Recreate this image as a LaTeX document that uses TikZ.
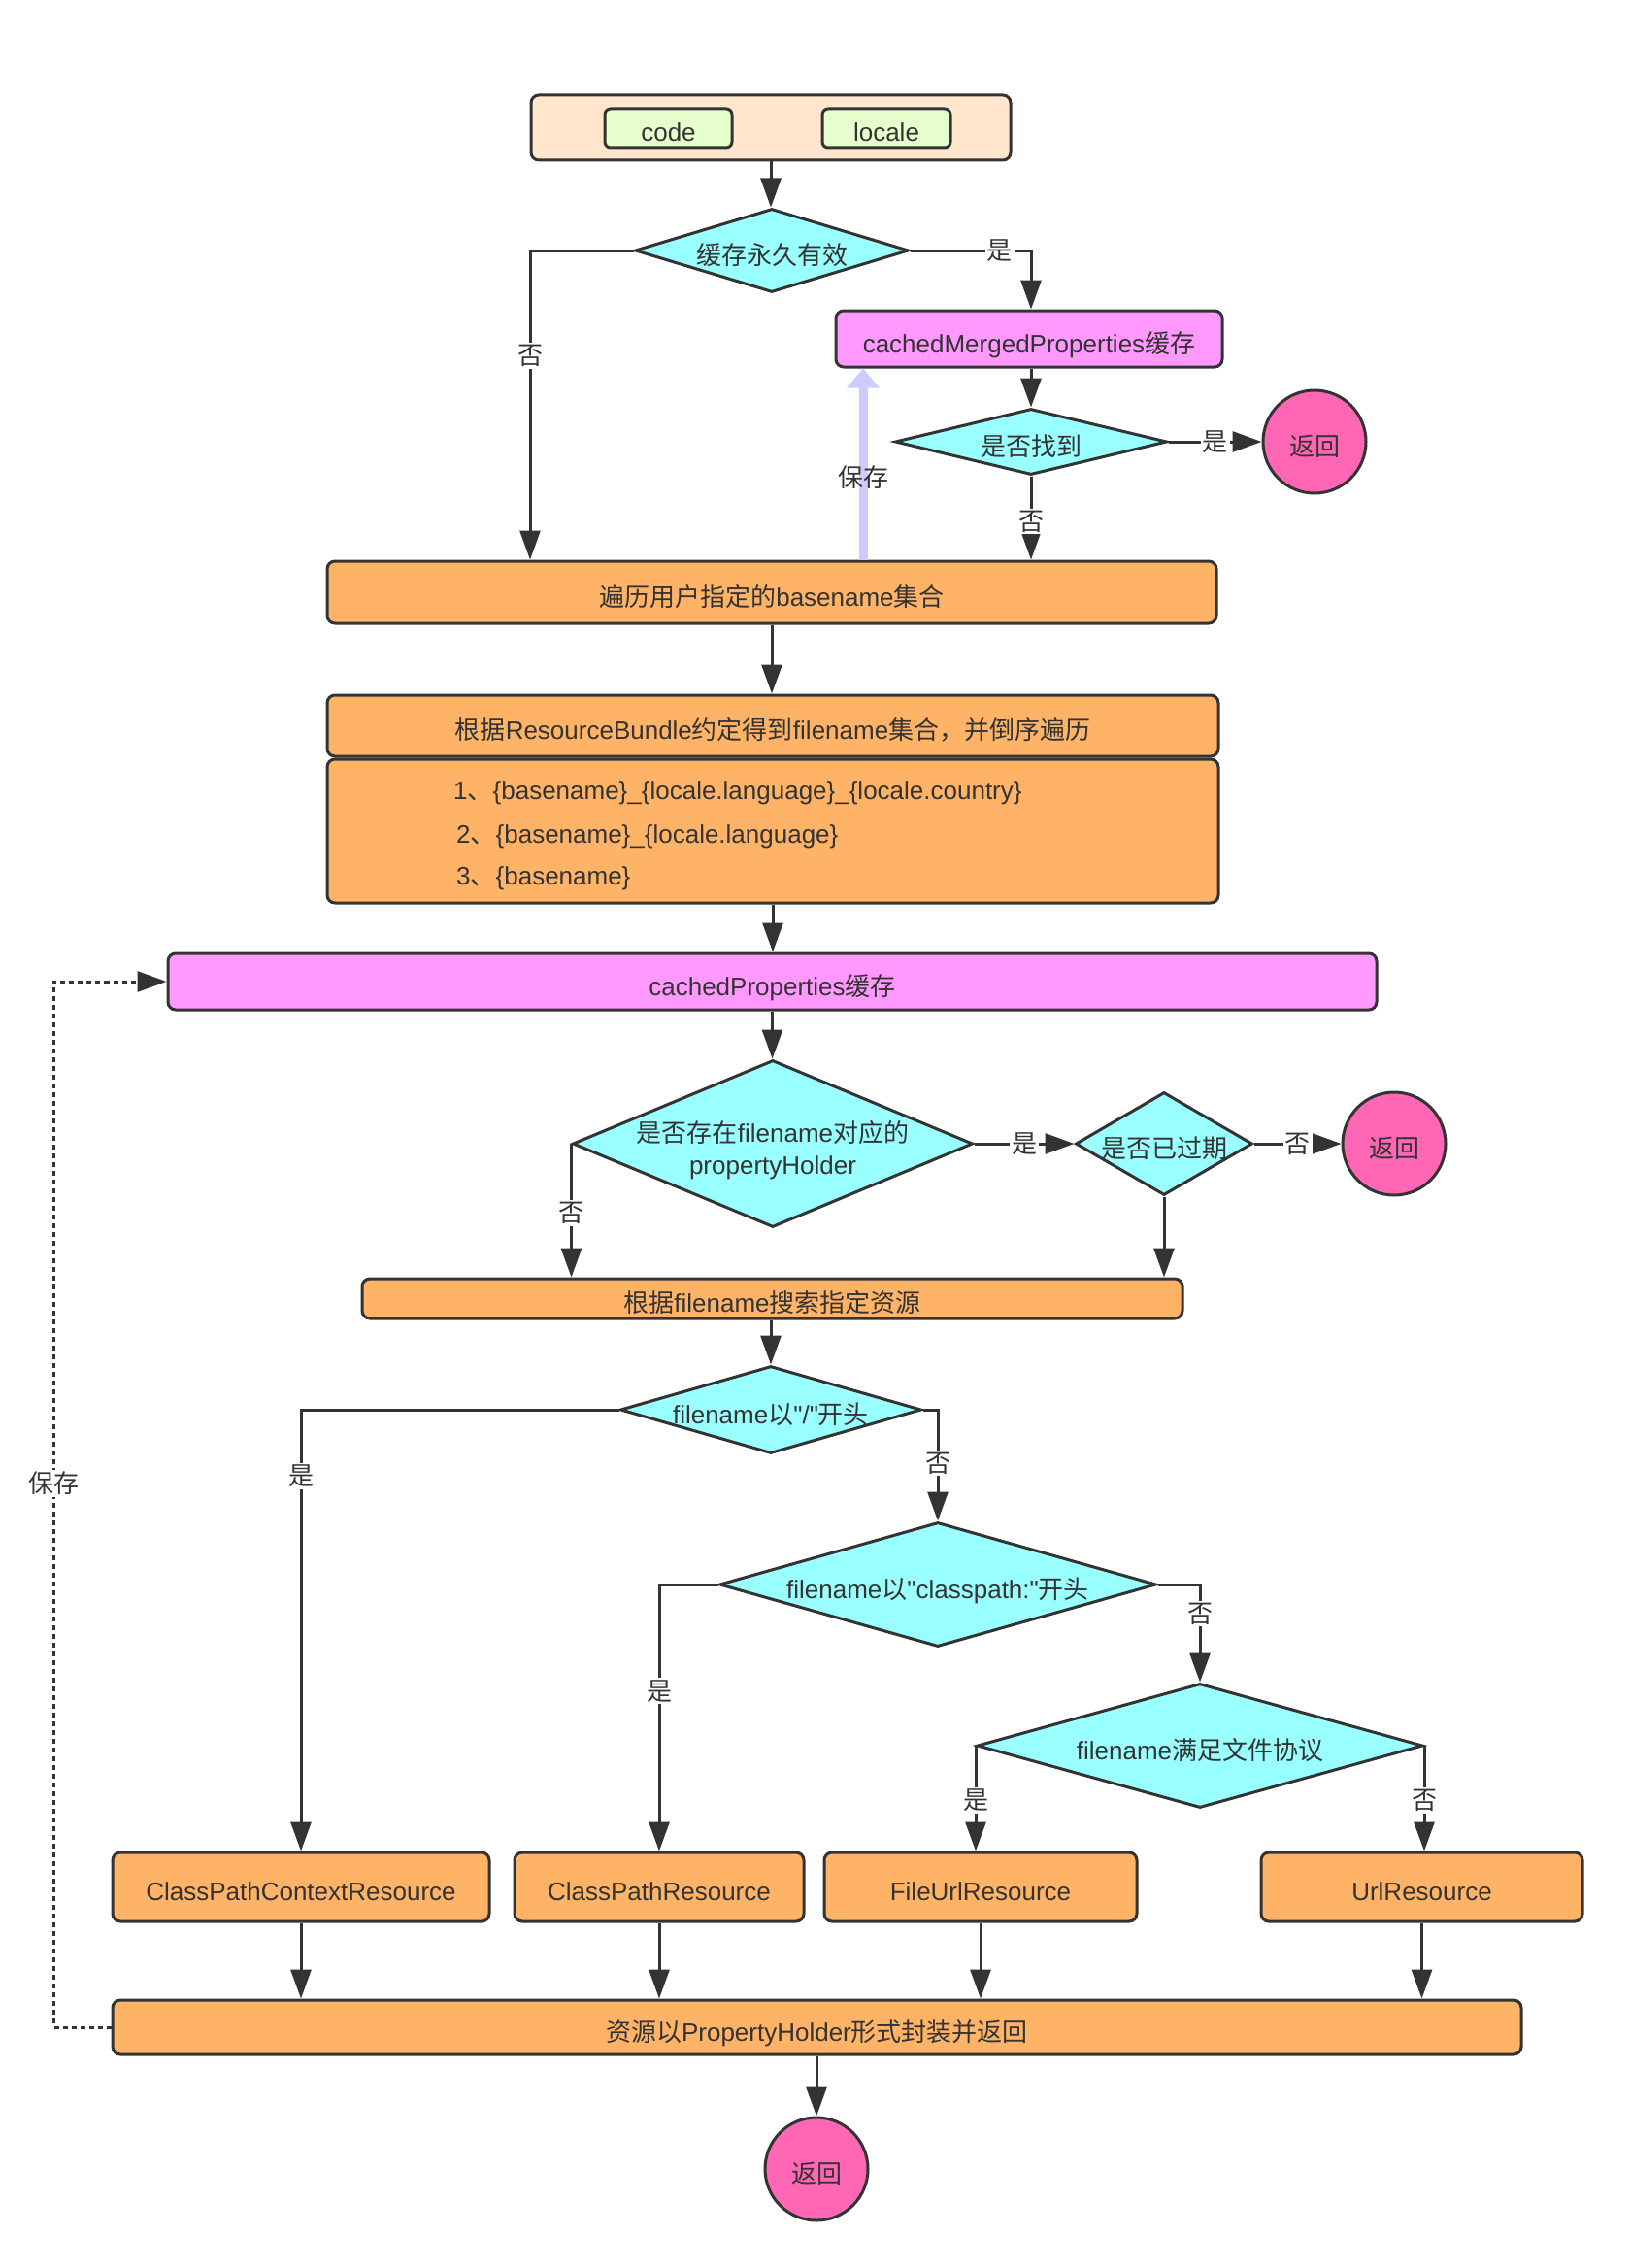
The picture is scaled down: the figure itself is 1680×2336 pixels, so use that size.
\documentclass[tikz,border=0pt]{standalone}
\usepackage{fontspec}
\setmainfont{Liberation Sans}[Ligatures=TeXOff]
\newfontfamily\cjkfont{Noto Sans CJK SC}
\XeTeXinterchartokenstate=1
\newXeTeXintercharclass\cjkclass
\newcount\cjkcnt
\cjkcnt="4E00
\loop \XeTeXcharclass\cjkcnt=\cjkclass \advance\cjkcnt by 1 \ifnum\cjkcnt<"A000 \repeat
\XeTeXcharclass"3001=\cjkclass
\XeTeXcharclass"FF0C=\cjkclass
\XeTeXinterchartoks 0 \cjkclass = {\cjkfont}
\XeTeXinterchartoks 4095 \cjkclass = {\cjkfont}
\XeTeXinterchartoks \cjkclass 0 = {\rmfamily}
\usetikzlibrary{arrows.meta,shapes.geometric}
\definecolor{ln}{HTML}{333333}
\definecolor{peach}{HTML}{FFE6CC}
\definecolor{lgreen}{HTML}{E6FFCC}
\definecolor{pinkbox}{HTML}{FF99FF}
\definecolor{cyanfill}{HTML}{99FFFF}
\definecolor{orangefill}{HTML}{FFB366}
\definecolor{endfill}{HTML}{FF66B3}
\definecolor{lav}{HTML}{CCCCFF}
\tikzset{
  ctext/.style={text height=28pt, text depth=0pt},
  boxbase/.style={draw=ln, line width=3pt, rounded corners=8pt, inner sep=0pt, text=ln, ctext},
  obox/.style={boxbase, fill=orangefill},
  pbox/.style={boxbase, fill=pinkbox},
  gbox/.style={boxbase, fill=lgreen, rounded corners=6pt},
  dia/.style={draw=ln, line width=3pt, fill=cyanfill, diamond, inner sep=0pt},
  endc/.style={draw=ln, line width=3pt, fill=endfill, circle, inner sep=0pt, minimum size=106pt, text=ln, ctext},
  txt/.style={inner sep=0pt, text=ln, align=center},
  dtxt/.style={txt, ctext},
  arr/.style={draw=ln, line width=3pt, -{Triangle[length=30pt,width=21pt]}},
  lbl/.style={fill=white, inner sep=2pt, text=ln},
  savearr/.style={draw=lav, line width=9pt, -{Triangle[length=20pt,width=33pt]}},
  dotline/.style={draw=ln, line width=3pt, dash pattern=on 5pt off 4pt, -{Triangle[length=30pt,width=21pt]}}
}
\begin{document}
\begin{tikzpicture}[x=1pt,y=-1pt, font=\fontsize{26}{33}\selectfont]
\useasboundingbox (0,0) rectangle (1680,2336);

% top input
\node[boxbase, fill=peach, minimum width=494pt, minimum height=67pt] (top) at (794,131.5) {};
\node[gbox, minimum width=131pt, minimum height=40pt] (code) at (688.5,132) {code};
\node[gbox, minimum width=132pt, minimum height=40pt] (locale) at (913,132) {locale};

\node[dia, minimum width=282pt, minimum height=86pt] (d1) at (795,258) {};
\node[dtxt] (d1t) at (d1) {缓存永久有效};

\node[pbox, minimum width=398pt, minimum height=58pt] (cm) at (1060,349) {cachedMergedProperties缓存};

\node[dia, minimum width=280pt, minimum height=68pt] (d2) at (1062,455) {};
\node[dtxt] (d2t) at (d2) {是否找到};
\node[endc] (r1) at (1354,455) {返回};

\node[obox, minimum width=916pt, minimum height=64pt] (bl) at (795,610) {遍历用户指定的basename集合};
\node[obox, minimum width=918pt, minimum height=63pt] (rb) at (796,747.5) {根据ResourceBundle约定得到filename集合，并倒序遍历};
\node[obox, minimum width=918pt, minimum height=148pt] (lst) at (796,856) {};
\node[txt, anchor=west] (l1) at (467,817) {1、\{basename\}\_\{locale.language\}\_\{locale.country\}};
\node[txt, anchor=west] (l2) at (470,862) {2、\{basename\}\_\{locale.language\}};
\node[txt, anchor=west] (l3) at (470,905) {3、\{basename\}};

\node[pbox, minimum width=1245pt, minimum height=58pt] (cp) at (795.5,1011) {cachedProperties缓存};

\node[dia, minimum width=412pt, minimum height=172pt] (d3) at (796,1178) {};
\node[txt] (d3t) at (796,1185) {是否存在filename对应的\\propertyHolder};
\node[dia, minimum width=182pt, minimum height=106pt] (d4) at (1199,1178) {};
\node[dtxt] (d4t) at (d4) {是否已过期};
\node[endc] (r2) at (1436,1178) {返回};

\node[obox, minimum width=845pt, minimum height=41pt] (sf) at (795.5,1337.5) {根据filename搜索指定资源};

\node[dia, minimum width=310pt, minimum height=90pt] (d5) at (794,1452) {};
\node[dtxt] (d5t) at (d5) {filename以"/"开头};
\node[dia, minimum width=450pt, minimum height=128pt] (d6) at (966,1632) {};
\node[dtxt] (d6t) at (d6) {filename以"classpath:"开头};
\node[dia, minimum width=459pt, minimum height=128pt] (d7) at (1236,1798) {};
\node[dtxt] (d7t) at (d7) {filename满足文件协议};

\node[obox, minimum width=388pt, minimum height=71pt] (cpcr) at (310,1943.5) {ClassPathContextResource};
\node[obox, minimum width=298pt, minimum height=71pt] (cpr) at (679,1943.5) {ClassPathResource};
\node[obox, minimum width=322pt, minimum height=71pt] (fur) at (1010,1943.5) {FileUrlResource};
\node[obox, minimum width=331pt, minimum height=71pt] (ur) at (1464.5,1943.5) {UrlResource};

\node[obox, minimum width=1451pt, minimum height=56pt] (res) at (841.5,2088) {资源以PropertyHolder形式封装并返回};
\node[endc] (r3) at (841,2234) {返回};

% connectors
\draw[arr] (top.south) -- (top.south |- d1.north);
\draw[arr] (d1.west) -| node[lbl, pos=0.67]{否} ([xshift=-249pt]bl.north);
\draw[arr] (d1.east) -| node[lbl, pos=0.37]{是} (d2.north |- cm.north);
\draw[arr] (d2.north |- cm.south) -- (d2.north);
\draw[arr] (d2.east) -- node[lbl]{是} (r1.west);
\draw[arr] (d2.south) -- node[lbl, pos=0.54]{否} (d2.south |- bl.north);
\draw[savearr] ([xshift=94pt]bl.north) -- node[txt, pos=0.43]{保存} ([xshift=94pt]bl.north |- cm.south);

\draw[arr] (bl.south) -- (bl.south |- rb.north);
\draw[arr] (lst.south) -- (lst.south |- cp.north);
\draw[arr] (cp.south) -- (cp.south |- d3.north);
\draw[arr] (d3.west) -- node[lbl, pos=0.52]{否} (d3.west |- sf.north);
\draw[arr] (d3.east) -- node[lbl]{是} (d4.west);
\draw[arr] (d4.east) -- node[lbl]{否} (r2.west);
\draw[arr] (d4.south) -- (d4.south |- sf.north);

\draw[arr] (sf.south -| d5.north) -- (d5.north);
\draw[arr] (d5.west) -| node[lbl, pos=0.575]{是} (cpcr.north);
\draw[arr] (d5.east) -| node[lbl, pos=0.74]{否} (d6.north);
\draw[arr] (d6.west) -| node[lbl, pos=0.7]{是} (cpr.north);
\draw[arr] (d6.east) -| node[lbl, pos=0.65]{否} (d7.north);
\draw[arr] (d7.west) -- node[lbl, pos=0.52]{是} (d7.west |- fur.north);
\draw[arr] (d7.east) -- node[lbl, pos=0.52]{否} (d7.east |- ur.north);

\draw[arr] (cpcr.south) -- (cpcr.south |- res.north);
\draw[arr] (cpr.south) -- (cpr.south |- res.north);
\draw[arr] (fur.south) -- (fur.south |- res.north);
\draw[arr] (ur.south) -- (ur.south |- res.north);
\draw[arr] (res.south -| r3.north) -- (r3.north);

\draw[dotline] (res.west) -- ++(-59,0) |- node[lbl, pos=0.26]{保存} (cp.west);
\end{tikzpicture}
\end{document}
